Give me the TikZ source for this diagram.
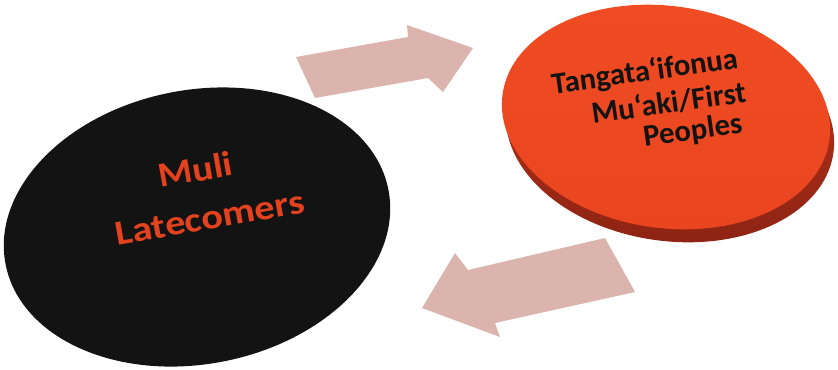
\documentclass[tikz,border=0pt]{standalone}
\usepackage{fontspec}
\setmainfont{Carlito}
\usetikzlibrary{shapes.geometric}
\definecolor{mulired}{HTML}{E2421E}
\definecolor{diskface}{HTML}{F04C24}
\definecolor{diskfacelow}{HTML}{E9461F}
\definecolor{diskrim}{HTML}{C2361A}
\definecolor{diskrimlow}{HTML}{8E2414}
\definecolor{arrowpink}{HTML}{DBB4AD}
\definecolor{nearblack}{HTML}{131313}
\tikzset{
  blob/.style={ellipse, inner sep=0pt, draw=none},
  bigarrow/.style={fill=arrowpink, draw=none},
  mulitext/.style={inner sep=0pt, anchor=base, rotate=10, text=mulired,
    font=\fontsize{26.25}{30}\selectfont\bfseries},
  disktext/.style={inner sep=0pt, anchor=base, rotate=8, text=nearblack,
    font=\fontsize{23}{26}\selectfont\bfseries}
}
\begin{document}
\begin{tikzpicture}[x=0.75pt, y=-0.75pt]
\useasboundingbox (0,0) rectangle (838,369);
% black ellipse
\node[blob, fill=nearblack, minimum width=292.5pt, minimum height=205.5pt, rotate=11] (muli) at (197,227) {};
\node[mulitext] (muliA) at (197.5,181.5) {\scalebox{1.12}[1]{Muli}};
\node[mulitext] (muliB) at (212,229) {\scalebox{1.15}[1]{Latecomers}};
% orange disk
\node[blob, top color=diskrim, bottom color=diskrimlow, minimum width=247.5pt, minimum height=166.5pt, rotate=-8] (rim) at (670,130) {};
\node[blob, top color=diskface, bottom color=diskfacelow, minimum width=247.5pt, minimum height=166.5pt, rotate=-8] (disk) at (666,117) {};
\node[disktext] (dA) at (646,81) {Tangata‘ifonua};
\node[disktext] (dB) at (670,113) {Mu‘aki/First};
\node[disktext] (dC) at (694,140) {Peoples};
% arrows
\fill[bigarrow] (296,57) -- (408,37) -- (407,25) -- (473,48) -- (443,92) -- (428,78) -- (315,98) -- cycle;
\fill[bigarrow] (422,308) -- (455,253) -- (468,270) -- (605,238) -- (635,292) -- (495,323) -- (500,337) -- cycle;
\end{tikzpicture}
\end{document}
